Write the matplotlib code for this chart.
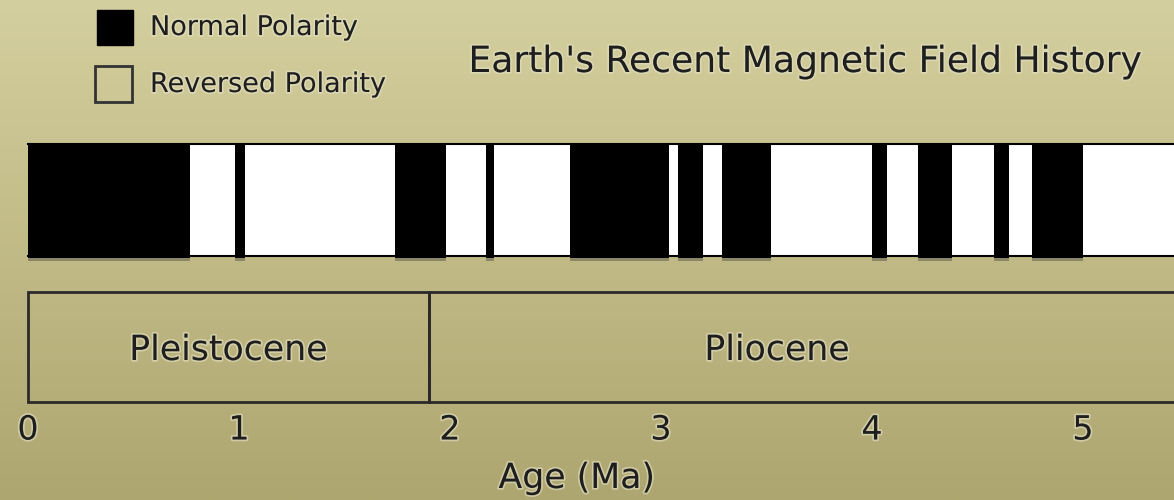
import numpy as np
import matplotlib
matplotlib.use('Agg')
import matplotlib.pyplot as plt
from matplotlib.patches import Rectangle
import matplotlib.patheffects as pe

# polarity record, ages in Ma (normal polarity intervals, rest reversed)
normal_start = [0.00, 0.98, 1.74, 2.17, 2.57, 3.08, 3.29, 4.00, 4.22, 4.58, 4.76]
normal_end = [0.77, 1.03, 1.98, 2.21, 3.04, 3.20, 3.52, 4.07, 4.38, 4.65, 5.00]

epochs = ['Pleistocene', 'Pliocene']
epoch_start = [0.0, 1.9]
epoch_end = [1.9, 5.6]
epoch_label_x = [0.95, 3.55]

age_ticks = [0, 1, 2, 3, 4, 5]
record_end = 5.6

plt.rcParams['font.family'] = ['DejaVu Sans']

W, H = 1174, 500
fig = plt.figure(figsize=(W / 100, H / 100), dpi=100)
ax = fig.add_axes([0, 0, 1, 1])
ax.set_xlim(-28 / 211, (W - 28) / 211)
ax.set_ylim(H, 0)
ax.axis('off')

# khaki gradient background
top = np.array([212, 207, 158]) / 255
bot = np.array([174, 166, 112]) / 255
t = np.linspace(0, 1, 200)[:, None, None]
grad = top * (1 - t) + bot * t
grad = np.repeat(grad, 2, axis=1)
ax.imshow(grad, extent=[ax.get_xlim()[0], ax.get_xlim()[1], H, 0], aspect='auto', zorder=0)

txt_fx = [pe.withStroke(linewidth=2.5, foreground='#e4e1c4', alpha=0.6)]
ink = '#1e1e1e'

# polarity bar
bar_top, bar_bot = 144, 256
ax.add_patch(Rectangle((0, bar_top), record_end, bar_bot - bar_top, facecolor='white', edgecolor='none', zorder=1))
ax.plot([0, record_end], [bar_top, bar_top], color='black', lw=1.5, zorder=2)
ax.plot([0, record_end], [bar_bot, bar_bot], color='black', lw=1.5, zorder=2)
for s, e in zip(normal_start, normal_end):
    # soft shadow below the block
    ax.add_patch(Rectangle((s, bar_top), e - s, bar_bot - bar_top + 5, facecolor='#555549', edgecolor='none', alpha=0.5, zorder=2))
    ax.add_patch(Rectangle((s, bar_top - 1), e - s, bar_bot - bar_top + 3, facecolor='black', edgecolor='none', zorder=3))

# epoch boxes
box_top, box_bot = 292, 402
for name, s, e, lx in zip(epochs, epoch_start, epoch_end, epoch_label_x):
    ax.add_patch(Rectangle((s, box_top), e - s, box_bot - box_top, facecolor='none', edgecolor='#2a2a2a', lw=2, zorder=2))
    ax.text(lx, 350, name, ha='center', va='center', fontsize=25, color=ink, path_effects=txt_fx)

# age axis labels
for a in age_ticks:
    ax.text(a, 430, str(a), ha='center', va='center', fontsize=24, color=ink, path_effects=txt_fx)
ax.text(2.6, 478, 'Age (Ma)', ha='center', va='center', fontsize=25, color=ink, path_effects=txt_fx)

# title
ax.text(805 / W, 1 - 62 / H, "Earth's Recent Magnetic Field History", transform=ax.transAxes,
        ha='center', va='center', fontsize=26, color=ink, path_effects=txt_fx)

# legend
ax.add_patch(Rectangle((97 / W, 1 - 45 / H), 36 / W, 35 / H, transform=ax.transAxes,
                       facecolor='black', edgecolor='black', zorder=4))
ax.add_patch(Rectangle((95 / W, 1 - 102 / H), 37 / W, 36 / H, transform=ax.transAxes,
                       facecolor='none', edgecolor='#333333', lw=2, zorder=4))
ax.text(150 / W, 1 - 28 / H, 'Normal Polarity', transform=ax.transAxes, ha='left', va='center',
        fontsize=19.5, color=ink, path_effects=txt_fx)
ax.text(150 / W, 1 - 85 / H, 'Reversed Polarity', transform=ax.transAxes, ha='left', va='center',
        fontsize=19.5, color=ink, path_effects=txt_fx)

fig.savefig('out.png', dpi=100)
